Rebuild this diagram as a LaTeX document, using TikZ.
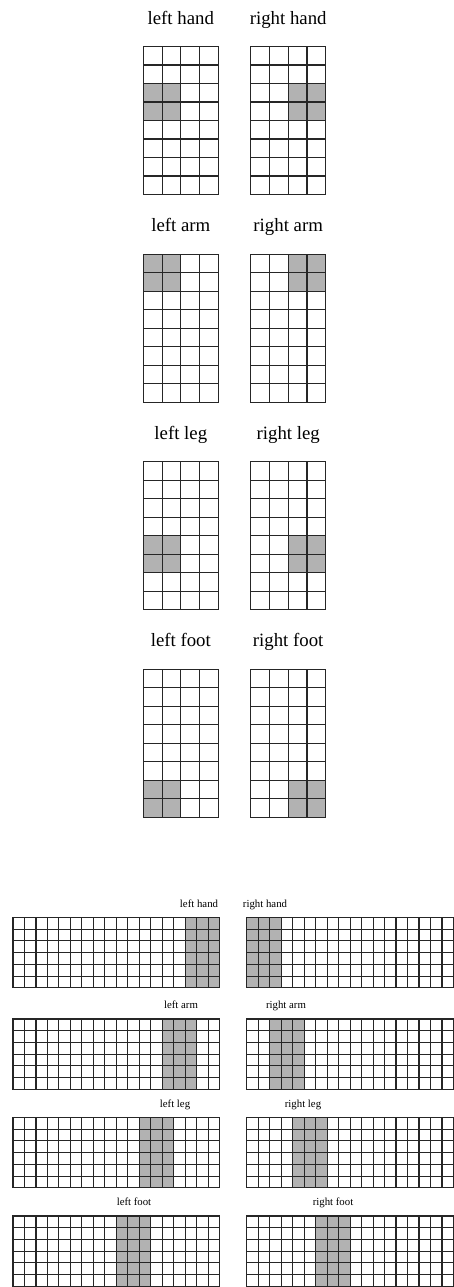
\documentclass[tikz,border=0pt]{standalone}
\usepackage{fontspec}
\setmainfont{Liberation Serif}
\begin{document}
\begin{tikzpicture}[x=0.5pt, y=-0.5pt,
    gridline/.style={draw=black!85, line width=0.55pt, line cap=rect},
    active/.style={fill=black!30},
    toplabel/.style={anchor=base, font=\fontsize{9.4}{11}\selectfont},
    rowlabel/.style={anchor=base, font=\fontsize{5.4}{6.5}\selectfont}
]
\useasboundingbox (0,0) rectangle (454,1287);
% upper block: 4 x 8 cells per limb
\foreach \part/\ytop/\row in {hand/46.5/2, arm/254.1/0, leg/461.7/4, foot/669.3/6} {
  \fill[active] (143.3,\ytop+\row*18.5) rectangle ++(37.5,37);
  \fill[active] (288.2,\ytop+\row*18.5) rectangle ++(37.5,37);
  \foreach \x in {143.3,250.7} {
    \foreach \i in {0,...,4}
      \draw[gridline] (\x+\i*18.75,\ytop) -- ++(0,148);
    \foreach \j in {0,...,8}
      \draw[gridline] (\x,\ytop+\j*18.5) -- ++(75,0);
  }
  \node[toplabel] (left-\part) at (180.8,\ytop-22.5) {left \part};
  \node[toplabel] (right-\part) at (288.2,\ytop-22.5) {right \part};
}
% lower block: 18 x 6 cells per limb
\foreach \part/\ytop/\col/\lx/\rx in {hand/917.5/15/199/265, arm/1019/13/181/286, leg/1117.5/11/175/303, foot/1216/9/134/333} {
  \fill[active] (13+\col*11.48,\ytop) rectangle ++(34.44,70.3);
  \fill[active] (246.8+15*11.48-\col*11.48,\ytop) rectangle ++(34.44,70.3);
  \foreach \x in {13,246.8} {
    \foreach \i in {0,...,18}
      \draw[gridline] (\x+\i*11.48,\ytop) -- ++(0,70.3);
    \foreach \j in {0,...,6}
      \draw[gridline] (\x,\ytop+\j*11.717) -- ++(206.64,0);
  }
  \node[rowlabel] (left-\part-row) at (\lx,\ytop-10.5) {left \part};
  \node[rowlabel] (right-\part-row) at (\rx,\ytop-10.5) {right \part};
}
\end{tikzpicture}
\end{document}
